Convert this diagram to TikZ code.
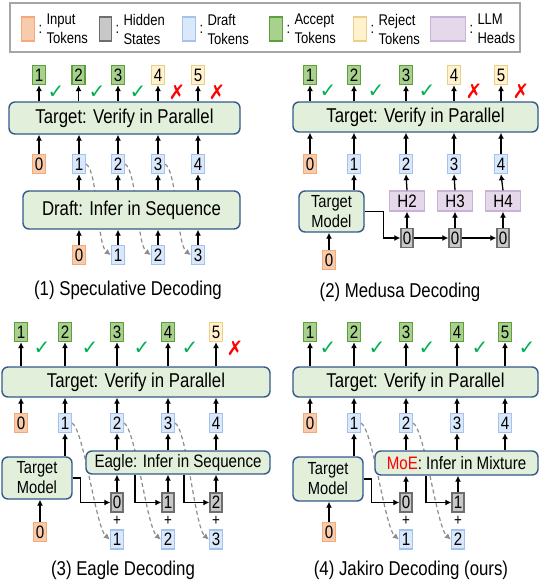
\documentclass[tikz,border=0pt]{standalone}
\usepackage{fontspec}
\setmainfont[FakeStretch=0.84]{Liberation Sans}
\newfontfamily\symfont{DejaVu Sans}
\usetikzlibrary{arrows.meta}
\definecolor{inpfill}{HTML}{F8CBAD}
\definecolor{inpdraw}{HTML}{F4A97A}
\definecolor{hidfill}{HTML}{C8C8C8}
\definecolor{hiddraw}{HTML}{6E6E6E}
\definecolor{drfill}{HTML}{DAE8FC}
\definecolor{drdraw}{HTML}{A4C2EC}
\definecolor{accfill}{HTML}{A9D18E}
\definecolor{accdraw}{HTML}{5E9E3E}
\definecolor{rejfill}{HTML}{FFF2CC}
\definecolor{rejdraw}{HTML}{E8CF8A}
\definecolor{headfill}{HTML}{E4D8EA}
\definecolor{headdraw}{HTML}{C6B3D6}
\definecolor{boxfill}{HTML}{E2EFDA}
\definecolor{boxdraw}{HTML}{34598C}
\definecolor{okgreen}{HTML}{00B050}
\definecolor{hopgray}{HTML}{8C8C8C}
\definecolor{legdraw}{HTML}{A6A6A6}

\begin{document}
\begin{tikzpicture}[x=1pt,y=-1pt]
\tikzset{tok/.style = {draw, line width=1.3pt, minimum width=13pt, minimum height=19pt, inner sep=0pt, font=\fontsize{18}{18}\selectfont}}
\tikzset{inp/.style = {tok, fill=inpfill, draw=inpdraw}}
\tikzset{hid/.style = {tok, minimum width=12pt, fill=hidfill, draw=hiddraw}}
\tikzset{dr/.style = {tok, fill=drfill, draw=drdraw}}
\tikzset{acc/.style = {tok, fill=accfill, draw=accdraw}}
\tikzset{rej/.style = {tok, fill=rejfill, draw=rejdraw}}
\tikzset{head/.style = {tok, minimum width=35pt, minimum height=20pt, fill=headfill, draw=headdraw}}
\tikzset{bigbox/.style = {draw=boxdraw, fill=boxfill, line width=1.4pt, rounded corners=6pt, inner sep=0pt, font=\fontsize{20}{22}\selectfont}}
\tikzset{tmbox/.style = {bigbox, align=center, font=\fontsize{17.5}{20}\selectfont}}
\tikzset{ok/.style = {text=okgreen, font=\symfont\fontsize{20}{20}\selectfont, inner sep=0pt}}
\tikzset{no/.style = {text=red, font=\symfont\fontsize{20}{20}\selectfont, inner sep=0pt}}
\tikzset{plus/.style = {font=\fontsize{16}{16}\selectfont, inner sep=0pt}}
\tikzset{caption/.style = {font=\fontsize{20}{22}\selectfont, inner sep=0pt}}
\tikzset{legtext/.style = {anchor=west, align=left, inner sep=0pt, font=\fontsize{15.5}{19}\selectfont}}
\tikzset{edge/.style = {-{Latex[length=6pt,width=6pt]}, line width=1.3pt}}
\tikzset{hop/.style = {-{Latex[length=6pt,width=6pt]}, line width=1.2pt, dash pattern=on 4pt off 3pt, draw=hopgray}}

\useasboundingbox (0,0) rectangle (540,584);

% legend
\node[draw=legdraw, line width=1.2pt, minimum width=510pt, minimum height=49pt, inner sep=0pt] (legend) at (265,27.5) {};
\foreach \x/\s/\a/\b [count=\i] in {21/inp/Input/Tokens, 99/hid/Hidden/States, 182/dr/Draft/Tokens, 269/acc/Accept/Tokens, 353/rej/Reject/Tokens, 430/head/LLM/Heads}
  {\node[\s, minimum height=24pt, anchor=west] (key\i) at (\x,29) {};
   \node[legtext] (colon\i) at ([xshift=3pt]key\i.east) {:};
   \node[legtext] (lab\i) at ([xshift=11pt]key\i.east) {\a\\\b};}

% (1) speculative decoding
\foreach \x/\s [count=\i] in {39/acc, 78.5/acc, 118/acc, 158/rej, 198/rej}
  {\node[\s] (sout\i) at (\x,75) {\i};}
\foreach \x [count=\i from 0] in {39, 79, 118, 158, 198}
  {\node[dr] (smid\i) at (\x,164) {\i};}
\node[inp] at (smid0) {0};
\foreach \x [count=\i from 0] in {79, 118, 158, 198}
  {\node[dr] (sbot\i) at (\x,255) {\i};}
\node[inp] at (sbot0) {0};
\foreach \x [count=\i] in {56, 97, 138}
  {\node[ok] (sok\i) at (\x,92) {✓};}
\node[no] (sno1) at (177,92) {✗};
\node[no] (sno2) at (217,92) {✗};
\foreach \i in {1,2,3}
  {\draw[hop] (smid\i.east) .. controls +(12,8) and +(-14,-10) .. (sbot\i.west);}
\node[bigbox, minimum width=231pt, minimum height=32pt] (sverify) at (124.5,118) {Target: Verify in Parallel};
\node[bigbox, minimum width=217pt, minimum height=38pt] (sdraft) at (131.5,210) {Draft: Infer in Sequence};
\foreach \i in {1,...,5}
  {\draw[edge] (sverify.north -| sout\i) -- (sout\i.south);}
\foreach \i in {0,...,4}
  {\draw[edge] (smid\i.north) -- (sverify.south -| smid\i);}
\foreach \i in {1,...,4}
  {\draw[edge] (sdraft.north -| smid\i) -- (smid\i.south);}
\foreach \i in {0,...,3}
  {\draw[edge] (sbot\i.north) -- (sdraft.south -| sbot\i);}
\node[caption] (scap) at (128,290) {(1) Speculative Decoding};

% (2) medusa decoding
\foreach \x/\s [count=\i] in {310/acc, 354/acc, 406/acc, 454/rej, 501/rej}
  {\node[\s] (mout\i) at (\x,75) {\i};}
\foreach \x [count=\i from 0] in {310, 354, 406, 454, 501}
  {\node[dr] (mmid\i) at (\x,164) {\i};}
\node[inp] at (mmid0) {0};
\foreach \x [count=\i] in {328, 376, 427}
  {\node[ok] (mok\i) at (\x,91) {✓};}
\node[no] (mno1) at (474,91) {✗};
\node[no] (mno2) at (521,91) {✗};
\node[bigbox, minimum width=245pt, minimum height=30pt] (mverify) at (415.5,117) {Target: Verify in Parallel};
\node[tmbox, minimum width=65pt, minimum height=41pt] (mtm) at (331.5,211.5) {Target\\Model};
\node[inp] (minp) at (329,260) {0};
\foreach \x [count=\i] in {407, 455, 503}
  {\node[head] (mhead\i) at (\x,201) {H\the\numexpr\i+1\relax};
   \node[hid] (mh\i) at (\x,238) {0};}
\foreach \i in {1,...,5}
  {\draw[edge] (mverify.north -| mout\i) -- (mout\i.south);}
\foreach \i in {0,...,4}
  {\draw[edge] (mmid\i.north) -- (mverify.south -| mmid\i);}
\draw[edge] (mtm.north -| mmid1) -- (mmid1.south);
\draw[edge] (minp.north) -- (mtm.south -| minp);
\foreach \i/\j in {1/2, 2/3, 3/4}
  {\draw[edge] (mh\i.north) -- (mhead\i.south);
   \draw[edge] (mhead\i.north) -- (mmid\j.south);}
\draw[edge] (mtm.east) -- ++(19,0) |- (mh1.west);
\draw[edge] (mh1.east) -- (mh2.west);
\draw[edge] (mh2.east) -- (mh3.west);
\node[caption] (mcap) at (400,292) {(2) Medusa Decoding};

% (3) eagle decoding
\foreach \x/\s [count=\i] in {21/acc, 65/acc, 117/acc, 168/acc, 216/rej}
  {\node[\s] (eout\i) at (\x,332) {\i};}
\foreach \x [count=\i from 0] in {21, 65, 117, 168, 216}
  {\node[dr] (emid\i) at (\x,423) {\i};}
\node[inp] at (emid0) {0};
\foreach \x [count=\i] in {42, 90, 142, 190}
  {\node[ok] (eok\i) at (\x,348) {✓};}
\node[no] (eno1) at (235,348) {✗};
\foreach \x [count=\i from 0] in {117, 168, 216}
  {\node[hid] (eh\i) at (\x,502.5) {\i};
   \node[plus] (eplus\i) at (\x,521) {+};
   \node[dr] (edr\the\numexpr\i+1\relax) at (\x,539.5) {\the\numexpr\i+1\relax};}
\node[inp] (einp) at (40,532) {0};
\foreach \i in {1,2,3}
  {\draw[hop] (emid\i.east) .. controls +(12,8) and +(-14,-12) .. (edr\i.west);}
\node[bigbox, minimum width=268pt, minimum height=30pt] (everify) at (136,382) {Target: Verify in Parallel};
\node[tmbox, minimum width=70pt, minimum height=42pt] (etm) at (37,478) {Target\\Model};
\node[bigbox, minimum width=184pt, minimum height=23pt, font=\fontsize{18}{20}\selectfont] (eeagle) at (178,462.5) {Eagle: Infer in Sequence};
\foreach \i in {1,...,5}
  {\draw[edge] (everify.north -| eout\i) -- (eout\i.south);}
\foreach \i in {0,...,4}
  {\draw[edge] (emid\i.north) -- (everify.south -| emid\i);}
\draw[edge] (etm.north -| emid1) -- (emid1.south);
\foreach \i in {2,3,4}
  {\draw[edge] (eeagle.north -| emid\i) -- (emid\i.south);}
\foreach \i in {0,1,2}
  {\draw[edge] (eh\i.north) -- (eeagle.south -| eh\i);}
\draw[edge] (einp.north) -- (etm.south -| einp);
\draw[edge] (etm.east) -- ++(8,0) |- (eh0.west);
\draw[edge] (eeagle.south -| 135,0) |- (eh1.west);
\draw[edge] (eeagle.south -| 184,0) |- (eh2.west);
\node[caption] (ecap) at (123,570) {(3) Eagle Decoding};

% (4) jakiro decoding
\foreach \x [count=\i] in {310, 354, 406, 457, 505}
  {\node[acc] (jout\i) at (\x,332) {\i};}
\foreach \x [count=\i from 0] in {310, 354, 406, 457, 505}
  {\node[dr] (jmid\i) at (\x,423) {\i};}
\node[inp] at (jmid0) {0};
\foreach \x [count=\i] in {328, 377, 427, 480, 527}
  {\node[ok] (jok\i) at (\x,348) {✓};}
\foreach \x [count=\i from 0] in {406, 458}
  {\node[hid] (jh\i) at (\x,502.5) {\i};
   \node[plus] (jplus\i) at (\x,521) {+};
   \node[dr] (jdr\the\numexpr\i+1\relax) at (\x,539.5) {\the\numexpr\i+1\relax};}
\node[inp] (jinp) at (329,532) {0};
\foreach \i in {1,2}
  {\draw[hop] (jmid\i.east) .. controls +(12,8) and +(-14,-12) .. (jdr\i.west);}
\node[bigbox, minimum width=245pt, minimum height=30pt] (jverify) at (415.5,382) {Target: Verify in Parallel};
\node[tmbox, minimum width=70pt, minimum height=44pt] (jtm) at (328,479) {Target\\Model};
\node[bigbox, minimum width=163pt, minimum height=24pt, font=\fontsize{18}{20}\selectfont] (jmoe) at (456.5,463) {\textcolor{red}{MoE}: Infer in Mixture};
\foreach \i in {1,...,5}
  {\draw[edge] (jverify.north -| jout\i) -- (jout\i.south);}
\foreach \i in {0,...,4}
  {\draw[edge] (jmid\i.north) -- (jverify.south -| jmid\i);}
\draw[edge] (jtm.north -| jmid1) -- (jmid1.south);
\foreach \i in {2,3,4}
  {\draw[edge] (jmoe.north -| jmid\i) -- (jmid\i.south);}
\foreach \i in {0,1}
  {\draw[edge] (jh\i.north) -- (jmoe.south -| jh\i);}
\draw[edge] (jinp.north) -- (jtm.south -| jinp);
\draw[edge] (jtm.east) -- ++(8,0) |- (jh0.west);
\draw[edge] (jmoe.south -| 426,0) |- (jh1.west);
\node[caption] (jcap) at (411,570) {(4) Jakiro Decoding (ours)};
\end{tikzpicture}
\end{document}
